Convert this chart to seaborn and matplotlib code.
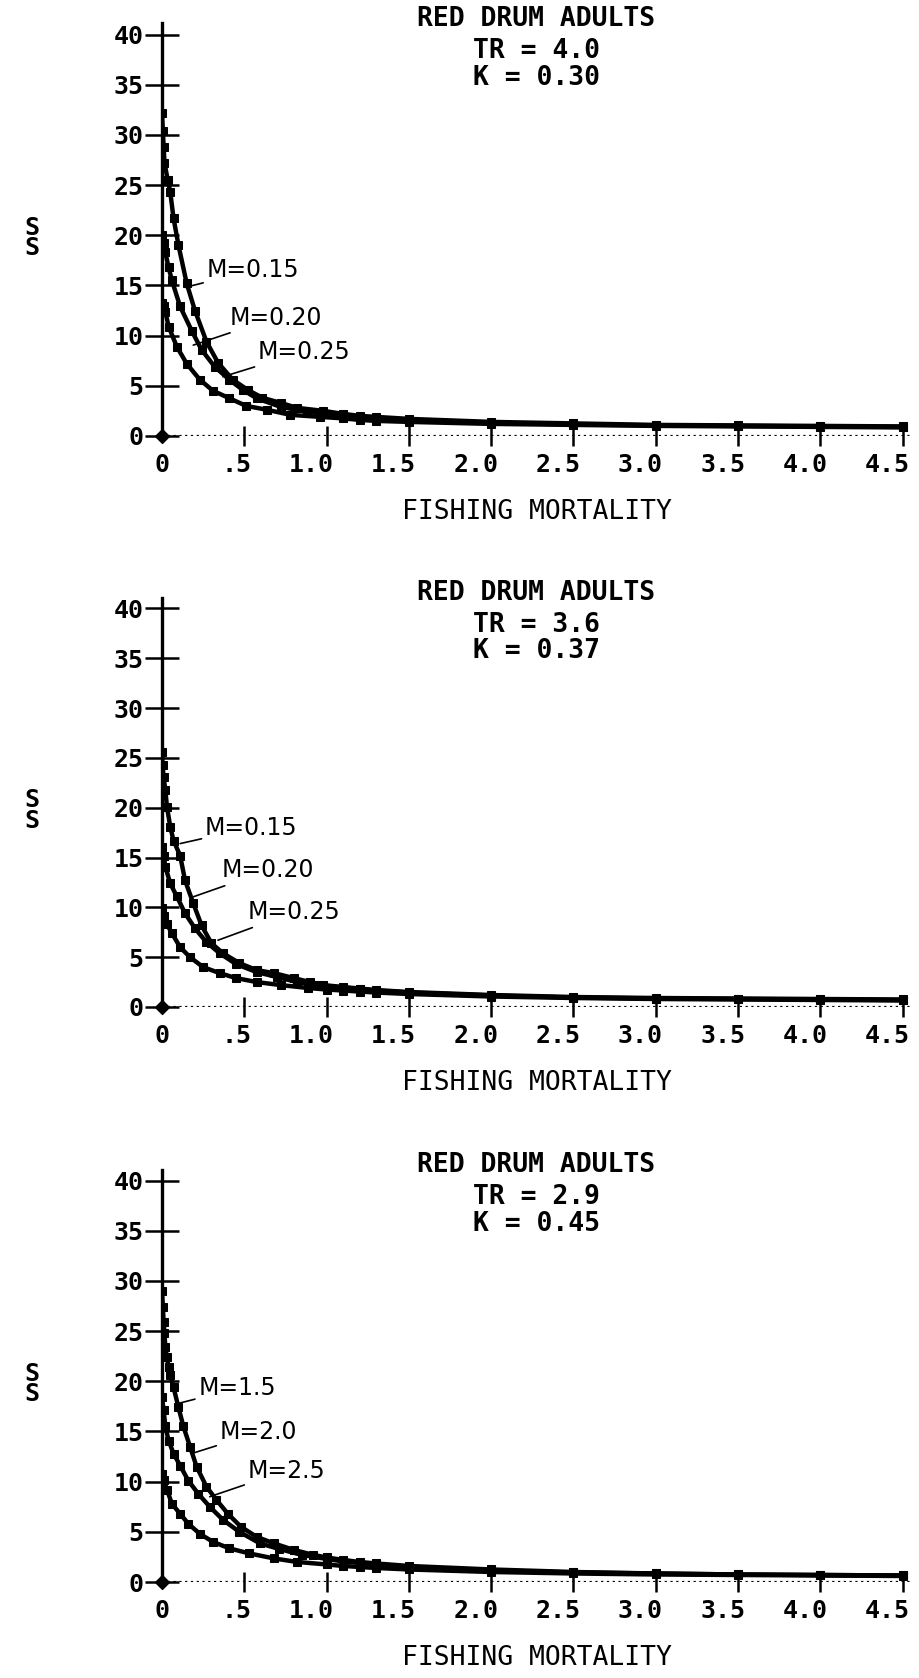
import numpy as np
import matplotlib
matplotlib.use("Agg")
import matplotlib.pyplot as plt
import matplotlib.transforms as mtransforms
import seaborn as sns
import pandas as pd

# ---- data ----
titles = ["TR = 4.0", "TR = 3.6", "TR = 2.9"]
kvals = ["K = 0.30", "K = 0.37", "K = 0.45"]

# panel 1: TR = 4.0, K = 0.30
p1_m15_f = [0, 0.005, 0.01, 0.015, 0.035, 0.05, 0.07, 0.1, 0.15, 0.2, 0.27, 0.34, 0.43, 0.52,
            0.61, 0.72, 0.82, 0.98, 1.1, 1.2, 1.3, 1.5, 2.0, 2.5, 3.0, 3.5, 4.0, 4.5]
p1_m15_ss = [32.2, 30.4, 28.8, 27.2, 25.5, 24.3, 21.7, 19.0, 15.2, 12.5, 9.4, 7.3, 5.6, 4.6,
             3.8, 3.3, 2.8, 2.5, 2.2, 2.0, 1.9, 1.7, 1.4, 1.25, 1.1, 1.05, 1.0, 0.95]
p1_m20_f = [0, 0.01, 0.02, 0.04, 0.06, 0.11, 0.18, 0.24, 0.32, 0.41, 0.49, 0.575, 0.72, 0.88,
            1.0, 1.1, 1.2, 1.3, 1.5, 2.0, 2.5, 3.0, 3.5, 4.0, 4.5]
p1_m20_ss = [20.0, 19.2, 18.3, 16.8, 15.5, 12.9, 10.5, 8.6, 6.9, 5.6, 4.6, 3.75, 2.9, 2.4,
             2.2, 2.0, 1.85, 1.75, 1.55, 1.3, 1.15, 1.05, 1.0, 0.95, 0.9]
p1_m25_f = [0, 0.01, 0.02, 0.04, 0.09, 0.15, 0.23, 0.31, 0.41, 0.51, 0.64, 0.78, 0.96, 1.1,
            1.2, 1.3, 1.5, 2.0, 2.5, 3.0, 3.5, 4.0, 4.5]
p1_m25_ss = [13.2, 12.9, 12.4, 10.9, 8.9, 7.2, 5.6, 4.5, 3.75, 3.0, 2.6, 2.1, 1.9, 1.75,
             1.6, 1.5, 1.4, 1.2, 1.1, 1.0, 0.95, 0.9, 0.85]

# panel 2: TR = 3.6, K = 0.37
p2_m15_f = [0, 0.003, 0.01, 0.02, 0.03, 0.05, 0.07, 0.11, 0.14, 0.19, 0.24, 0.30, 0.37, 0.47,
            0.575, 0.68, 0.80, 0.90, 0.98, 1.1, 1.2, 1.3, 1.5, 2.0, 2.5, 3.0, 3.5, 4.0, 4.5]
p2_m15_ss = [25.6, 24.3, 23.1, 21.8, 20.1, 18.1, 16.7, 15.2, 12.7, 10.4, 8.2, 6.4, 5.4, 4.4,
             3.7, 3.4, 2.9, 2.5, 2.2, 2.0, 1.85, 1.7, 1.5, 1.2, 1.0, 0.9, 0.85, 0.8, 0.75]
p2_m20_f = [0, 0.01, 0.02, 0.05, 0.09, 0.14, 0.20, 0.27, 0.35, 0.45, 0.575, 0.70, 0.82, 0.95,
            1.1, 1.2, 1.3, 1.5, 2.0, 2.5, 3.0, 3.5, 4.0, 4.5]
p2_m20_ss = [16.1, 15.2, 14.1, 12.4, 11.1, 9.4, 7.9, 6.5, 5.4, 4.3, 3.5, 3.0, 2.5, 2.2,
             1.95, 1.8, 1.65, 1.45, 1.15, 0.95, 0.85, 0.8, 0.75, 0.7]
p2_m25_f = [0, 0.015, 0.03, 0.06, 0.11, 0.17, 0.25, 0.35, 0.45, 0.575, 0.72, 0.89, 1.0, 1.1,
            1.2, 1.3, 1.5, 2.0, 2.5, 3.0, 3.5, 4.0, 4.5]
p2_m25_ss = [9.9, 9.1, 8.3, 7.4, 6.0, 5.0, 4.0, 3.4, 2.9, 2.5, 2.2, 1.9, 1.75, 1.65,
             1.55, 1.45, 1.3, 1.05, 0.9, 0.8, 0.75, 0.7, 0.65]

# panel 3: TR = 2.9, K = 0.45
p3_m15_f = [0, 0.005, 0.01, 0.015, 0.02, 0.03, 0.04, 0.05, 0.07, 0.10, 0.13, 0.17, 0.21, 0.27,
            0.33, 0.40, 0.48, 0.575, 0.68, 0.80, 0.92, 1.0, 1.1, 1.2, 1.3, 1.5, 2.0, 2.5,
            3.0, 3.5, 4.0, 4.5]
p3_m15_ss = [29.0, 27.4, 25.9, 24.8, 23.4, 22.4, 21.4, 20.6, 19.4, 17.4, 15.5, 13.5, 11.5, 9.5,
             8.2, 6.8, 5.5, 4.5, 3.85, 3.2, 2.7, 2.45, 2.2, 2.0, 1.85, 1.6, 1.25, 1.0,
             0.85, 0.75, 0.7, 0.65]
p3_m20_f = [0, 0.01, 0.02, 0.04, 0.07, 0.11, 0.16, 0.22, 0.29, 0.37, 0.47, 0.595, 0.71, 0.85,
            1.0, 1.1, 1.2, 1.3, 1.5, 2.0, 2.5, 3.0, 3.5, 4.0, 4.5]
p3_m20_ss = [18.4, 17.1, 15.5, 14.1, 12.8, 11.6, 10.1, 8.8, 7.5, 6.2, 5.0, 3.85, 3.3, 2.7,
             2.3, 2.05, 1.9, 1.75, 1.5, 1.15, 0.95, 0.85, 0.75, 0.7, 0.65]
p3_m25_f = [0, 0.01, 0.03, 0.06, 0.11, 0.16, 0.23, 0.31, 0.41, 0.53, 0.68, 0.82, 1.0, 1.1,
            1.2, 1.3, 1.5, 2.0, 2.5, 3.0, 3.5, 4.0, 4.5]
p3_m25_ss = [10.8, 10.2, 9.2, 7.8, 6.8, 5.8, 4.8, 4.0, 3.35, 2.85, 2.35, 2.0, 1.75, 1.6,
             1.5, 1.4, 1.25, 1.0, 0.85, 0.75, 0.7, 0.65, 0.6]

curve_f = [[p1_m15_f, p1_m20_f, p1_m25_f], [p2_m15_f, p2_m20_f, p2_m25_f], [p3_m15_f, p3_m20_f, p3_m25_f]]
curve_ss = [[p1_m15_ss, p1_m20_ss, p1_m25_ss], [p2_m15_ss, p2_m20_ss, p2_m25_ss], [p3_m15_ss, p3_m20_ss, p3_m25_ss]]
m_labels = [["M=0.15", "M=0.20", "M=0.25"], ["M=0.15", "M=0.20", "M=0.25"], ["M=1.5", "M=2.0", "M=2.5"]]

# label text position and leader-line end (data units)
label_text_xy = [[(0.27, 16.5), (0.41, 11.8), (0.58, 8.4)],
                 [(0.26, 18.0), (0.365, 13.7), (0.52, 9.5)],
                 [(0.22, 19.3), (0.35, 14.9), (0.52, 11.1)]]
label_point_xy = [[(0.14, 14.8), (0.19, 9.05), (0.37, 5.9)],
                  [(0.11, 16.4), (0.18, 11.0), (0.34, 6.7)],
                  [(0.10, 17.8), (0.18, 12.8), (0.29, 8.5)]]

xticks = [0, 0.5, 1.0, 1.5, 2.0, 2.5, 3.0, 3.5, 4.0, 4.5]
xticklabels = ["0", ".5", "1.0", "1.5", "2.0", "2.5", "3.0", "3.5", "4.0", "4.5"]
yticks = [0, 5, 10, 15, 20, 25, 30, 35, 40]

sns.set_style("white")
plt.rcParams['font.family'] = ['DejaVu Sans Mono', 'DejaVu Sans']
plt.rcParams['text.color'] = 'black'
plt.rcParams['axes.labelcolor'] = 'black'
plt.rcParams['xtick.color'] = 'black'
plt.rcParams['ytick.color'] = 'black'

fig = plt.figure(figsize=(9.2, 16.78), dpi=100)

# axes boxes [left, bottom, width, height] in figure fraction
boxes = [[0.1761, 0.7402, 0.814, 0.2458],
         [0.1761, 0.3999, 0.814, 0.2440],
         [0.1761, 0.0572, 0.814, 0.2458]]

shift = mtransforms.ScaledTranslation(0.07, 0, fig.dpi_scale_trans)

for i in range(3):
    ax = fig.add_axes(boxes[i])
    for j in range(3):
        df = pd.DataFrame({"F": curve_f[i][j], "SS": curve_ss[i][j]})
        sns.lineplot(data=df, x="F", y="SS", ax=ax, color="black", lw=3.2,
                     marker="s", markersize=6, markeredgecolor="black",
                     estimator=None, sort=True)
        ax.annotate(m_labels[i][j], xy=label_point_xy[i][j], xytext=label_text_xy[i][j],
                    fontsize=17, family="DejaVu Sans", va="center", ha="left",
                    color="black",
                    arrowprops=dict(arrowstyle="-", color="black", lw=1.2,
                                    shrinkA=0, shrinkB=0))

    ax.axhline(0, color="black", ls=(0, (1, 1.6)), lw=1.6)
    ax.scatter([0], [0], marker="D", s=50, color="black", zorder=5, clip_on=False)

    ax.set_xlim(0, 4.55)
    ax.set_ylim(0, 41.1)
    ax.set_xticks(xticks)
    ax.set_xticklabels(xticklabels)
    ax.set_yticks(yticks)
    ax.set_yticklabels([str(v) for v in yticks])

    for s in ["top", "right", "bottom"]:
        ax.spines[s].set_visible(False)
    ax.spines["left"].set_linewidth(2.4)
    ax.spines["left"].set_color("black")

    ax.tick_params(axis="y", direction="inout", length=25, width=1.8, pad=1,
                   labelsize=18, left=True, colors="black")
    ax.tick_params(axis="x", direction="inout", length=14, width=1.8, pad=5,
                   labelsize=18, bottom=True, colors="black")
    ax.xaxis.get_major_ticks()[0].tick1line.set_visible(False)
    for lab in ax.get_xticklabels():
        lab.set_ha("right")
        lab.set_transform(lab.get_transform() + shift)
    for lab in ax.get_xticklabels() + ax.get_yticklabels():
        lab.set_fontweight("bold")

    ax.set_xlabel("FISHING MORTALITY", fontsize=19, labelpad=16, color="black")
    ax.set_ylabel("S\nS", rotation=0, fontsize=18, fontweight="bold", linespacing=0.8,
                  va="center", color="black")
    ax.yaxis.set_label_coords(-0.174, 0.48)

    ax.text(0.5, 1.012, "RED DRUM ADULTS", transform=ax.transAxes, ha="center",
            va="center", fontsize=19, fontweight="bold", color="black")
    ax.text(0.5, 0.934, titles[i], transform=ax.transAxes, ha="center",
            va="center", fontsize=19, fontweight="bold", color="black")
    ax.text(0.5, 0.869, kvals[i], transform=ax.transAxes, ha="center",
            va="center", fontsize=19, fontweight="bold", color="black")
    ax.set_facecolor("white")

fig.savefig("out.png", dpi=100, facecolor="white")
